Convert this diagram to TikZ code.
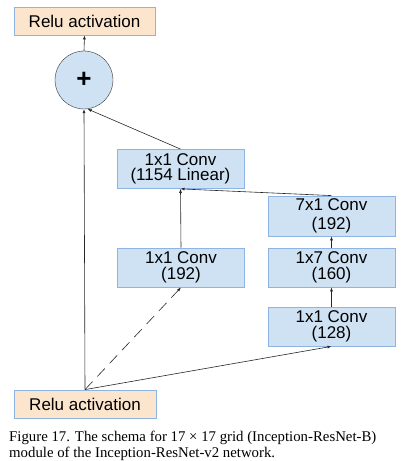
\documentclass[tikz,border=0pt]{standalone}
\usepackage{fontspec}
\setmainfont{Liberation Serif}
\setsansfont{Liberation Sans}
\usepackage{xcolor}
\usepackage{tikz}
\usetikzlibrary{positioning, arrows.meta}
\definecolor{ReluOrange}{HTML}{FCE5CD}
\definecolor{ConvBlue}{HTML}{CFE2F3}
\definecolor{EdgeBlue}{HTML}{8EB4E3}

\begin{document}
\begin{tikzpicture}[x=1pt, y=1pt,
            relubox/.style={draw=EdgeBlue, thick, fill=ReluOrange, minimum width=141pt, minimum height=28pt, inner sep=0pt, font=\sffamily\fontsize{17}{17}\selectfont},
            convbox/.style={draw=EdgeBlue, thick, fill=ConvBlue, minimum width=127pt, minimum height=39pt, inner sep=0pt, align=center, font=\sffamily\fontsize{17}{15.5}\selectfont},
            sumnode/.style={circle, draw=black!80, fill=ConvBlue, minimum size=58pt, inner sep=0pt, font=\sffamily\bfseries\fontsize{26}{26}\selectfont},
            arrow/.style={-{Latex[length=4pt, width=3pt]}, black!85, line width=0.6pt},
            caption/.style={align=left, anchor=north west, inner sep=0pt, font=\fontsize{14.8}{16}\selectfont}
        ]
            \useasboundingbox (0,0) rectangle (411,461);

            \node[relubox] (relutop) at (84.5,440) {Relu activation};
            \node[sumnode] (sum) at (84,381) {+};
            \node[convbox] (linear) at (180.5,292) {1x1 Conv\\(1154 Linear)};
            \node[convbox, minimum height=40pt] (conv71) at (331.5,245) {7x1 Conv\\[4pt](192)};
            \node[convbox] (conv11a) at (181,193.5) {1x1 Conv\\(192)};
            \node[convbox] (conv17) at (331.5,193.5) {1x7 Conv\\(160)};
            \node[convbox] (conv11b) at (331.5,134.5) {1x1 Conv\\(128)};
            \node[relubox, minimum width=142pt] (relubot) at (85,57) {Relu activation};

            \node[caption] (cap) at (9,30) {Figure 17. The schema for 17 × 17 grid (Inception-ResNet-B)\\module of the Inception-ResNet-v2 network.};

            \draw[arrow] (relubot.north) -- (sum.south);
            \draw[arrow, dash pattern=on 11pt off 7pt] (relubot.north) -- (conv11a.south);
            \draw[arrow] (relubot.north) -- (conv11b.south);
            \draw[arrow] (conv11b.north) -- (conv17.south);
            \draw[arrow] (conv17.north) -- (conv71.south);
            \draw[arrow] (conv11a.north) -- (linear.south);
            \draw[arrow] (conv71.north) -- (linear.south);
            \draw[arrow] (linear.north) -- (sum.-83);
            \draw[arrow] (sum.north) -- (relutop.south);

        \end{tikzpicture}
\end{document}
